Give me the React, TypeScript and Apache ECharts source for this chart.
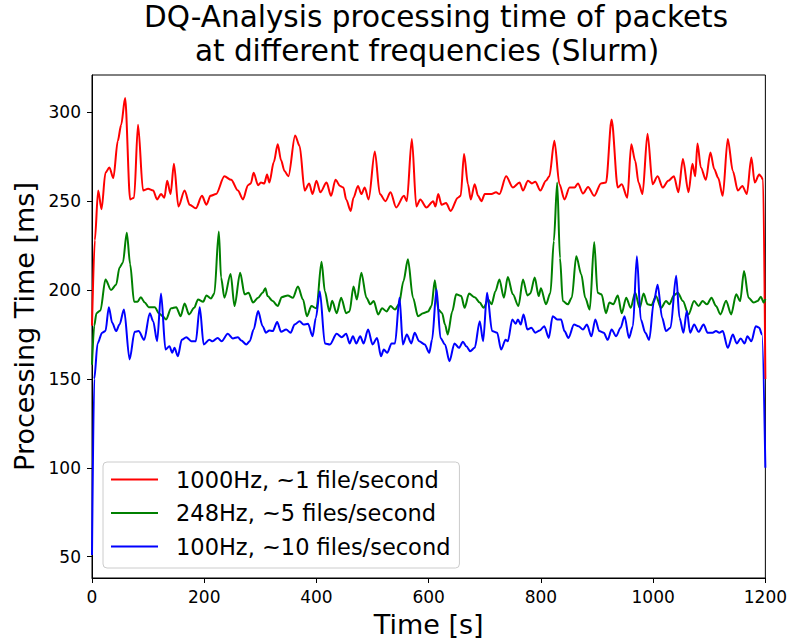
import React, { useEffect, useRef } from "react";
import * as echarts from "echarts";

const TITLE_LINE_1 = "DQ-Analysis processing time of packets";
const TITLE_LINE_2 = "at different frequencies (Slurm)";
const X_NAME = "Time [s]";
const Y_NAME = "Processing Time [ms]";
const Y_TICKS = [50, 100, 150, 200, 250, 300];
const SERIES_NAMES = ["1000Hz, ~1 file/second", "248Hz, ~5 files/second", "100Hz, ~10 files/second"];
const SERIES_COLORS = ["#ff0000", "#008000", "#0000ff"];

const red1000: number[][] = [
  [0, 180], [5, 228], [11, 256], [17, 245.5], [24, 266], [31, 269], [38, 263], [46, 284], [52, 293], [59, 308],
  [68, 251], [75, 252], [82, 293], [91, 256], [100, 257], [109, 256], [116, 251], [123, 254], [129, 252], [134, 261.5],
  [140, 254], [146, 271], [154, 247], [165, 256], [174, 248], [185, 246], [196, 253], [204, 248], [211, 253], [221, 254],
  [236, 264], [248, 262], [260, 256], [269, 251], [278, 259], [283, 260], [288, 266], [296, 259], [301, 260.5], [307, 260],
  [312, 265], [316, 260.5], [324, 272], [331, 282], [337, 273], [343, 267], [350, 264], [362, 287], [370, 281], [379, 256],
  [387, 260], [393, 254], [400, 261.5], [407, 255], [418, 260.5], [426, 253], [434, 262], [442, 258.6], [448, 257.7], [453, 251],
  [461, 244.5], [466, 252], [474, 258.6], [480, 254], [486, 257.7], [493, 251], [504, 278], [513, 254], [523, 250], [532, 255],
  [542, 246.5], [556, 253], [561, 250], [570, 285], [578, 247], [585, 251], [596, 246.5], [608, 250], [612, 247], [617, 254],
  [623, 248], [631, 249], [639, 244.5], [652, 252], [657, 253], [663, 276.5], [670, 259.6], [675, 251], [682, 259.6], [688, 253],
  [694, 250], [700, 254], [712, 254], [720, 255], [726, 254], [738, 264], [750, 257.7], [762, 260.5], [768, 256], [777, 261.5],
  [784, 260], [790, 261], [799, 256], [809, 261.5], [815, 264], [824, 284], [833, 259.6], [842, 251], [851, 257.7], [860, 257.7],
  [866, 260], [875, 254.3], [884, 258], [895, 253], [907, 260], [916, 260.5], [926, 296], [937, 257.7], [944, 259.6], [954, 252],
  [961, 282], [968, 272.7], [974, 260.5], [981, 254], [990, 288], [999, 259.6], [1008, 264], [1017, 257.7], [1027, 261.5], [1037, 264],
  [1045, 255], [1053, 273.7], [1063, 255], [1070, 271], [1075, 264], [1079, 282.5], [1085, 269], [1094, 262], [1102, 277.4], [1109, 268],
  [1116, 263], [1124, 253], [1133, 285], [1142, 267], [1151, 256], [1159, 258.6], [1167, 254], [1175, 274.6], [1181, 260.5], [1189, 265],
  [1192, 264], [1196, 262], [1200, 150],
];

const green248: number[][] = [
  [0, 158], [4, 180], [8, 187], [15, 188.5], [24, 206], [34, 200], [43, 203], [49, 212.6], [55, 215.4], [62, 232.3],
  [68, 214.5], [75, 193.4], [81, 193.4], [87, 196], [94, 193], [101, 190.4], [112, 190.4], [119, 187], [126, 185.3], [132, 183.5],
  [141, 189.7], [150, 190.4], [158, 185.3], [165, 192.5], [173, 186.3], [182, 190], [189, 194.7], [198, 193.4], [204, 197], [212, 195.3],
  [218, 198], [226, 233], [230, 207], [236, 195.7], [247, 209], [254, 191], [264, 209.8], [272, 197.6], [279, 198.5], [287, 193],
  [296, 195.7], [304, 198.5], [309, 201], [313, 196.6], [322, 193.8], [331, 191], [338, 196], [349, 197], [358, 195.7], [367, 202],
  [376, 194.7], [383, 185.3], [391, 191], [400, 189.7], [409, 216], [415, 199.4], [423, 188], [428, 194], [436, 187], [444, 195.7],
  [453, 187], [459, 188], [466, 202], [472, 194.7], [480, 209.8], [489, 195.7], [496, 192], [502, 193.8], [510, 186.3], [517, 189.7],
  [525, 188], [532, 191], [540, 189], [547, 192], [555, 205], [563, 217.3], [572, 195.7], [581, 185.3], [590, 187], [599, 188],
  [605, 191], [611, 205.5], [617, 189], [624, 187], [629, 180.6], [634, 175], [642, 188], [649, 197.6], [658, 196.6], [664, 190],
  [672, 198], [682, 196], [691, 193], [698, 190], [706, 194.7], [712, 192], [719, 199.4], [726, 206], [734, 195.7], [741, 207.3],
  [750, 197.6], [760, 191], [768, 206], [776, 197], [781, 198], [789, 207], [796, 196.6], [800, 201], [809, 192], [817, 198.5],
  [823, 227.6], [829, 260.5], [834, 218], [839, 193.8], [848, 192], [855, 195.7], [863, 219], [872, 208.8], [879, 195.7], [887, 189],
  [895, 227], [901, 198.5], [908, 197.6], [916, 187], [922, 193], [929, 192], [937, 197], [944, 187], [952, 195.7], [960, 190],
  [968, 198.5], [976, 190], [983, 198], [990, 192], [997, 191.5], [1005, 196.6], [1014, 190], [1023, 193.8], [1029, 192], [1037, 197],
  [1044, 198.5], [1053, 193.8], [1063, 186.3], [1073, 193.8], [1081, 191], [1088, 193.8], [1096, 192], [1104, 195.7], [1112, 191], [1120, 186.3],
  [1130, 194], [1139, 186.3], [1148, 197.6], [1155, 193.8], [1162, 210.7], [1170, 195.7], [1179, 193], [1186, 193.8], [1192, 196.2], [1197, 193],
  [1200, 195],
];

const blue100: number[][] = [
  [0, 51], [4, 150], [10, 170], [18, 176], [24, 177], [30, 190.4], [36, 181.6], [43, 176.9], [49, 180.6], [57, 189],
  [67, 161], [76, 176.5], [83, 176.9], [93, 172], [103, 187], [109, 182.5], [116, 171.2], [123, 198], [131, 166.5], [138, 168.4],
  [143, 164.7], [147, 167.5], [153, 162.8], [160, 172], [168, 173.5], [177, 171.2], [185, 171.2], [192, 190.4], [199, 169.4], [209, 172],
  [215, 171.2], [224, 173.1], [231, 171.2], [242, 175.4], [251, 172.8], [260, 173.5], [266, 171.6], [275, 169.4], [281, 171.2], [288, 177.8],
  [296, 188.2], [304, 179.7], [310, 176], [316, 177.3], [322, 176.9], [330, 182], [337, 176.5], [346, 177.8], [354, 176], [361, 180.6],
  [370, 182.5], [377, 180.6], [385, 181], [393, 174], [399, 184.4], [406, 199.4], [415, 170], [424, 169.4], [436, 175.4], [445, 173.5],
  [453, 175.4], [459, 170], [465, 174], [471, 170], [478, 174], [484, 170], [492, 177.8], [500, 169.4], [508, 173.1], [515, 162.8],
  [520, 166.5], [526, 164.7], [534, 170], [540, 170], [548, 195.7], [554, 169.4], [561, 175], [569, 170], [575, 176], [583, 171.2],
  [593, 169.4], [601, 164.7], [606, 172], [614, 200.4], [621, 173.1], [629, 169.4], [637, 160], [646, 170], [654, 167.5], [661, 170.9],
  [667, 168.4], [674, 165.6], [682, 167.5], [691, 182.5], [697, 171.2], [704, 198.5], [713, 176.9], [722, 176], [729, 166.5], [737, 172],
  [741, 171.2], [749, 183.5], [755, 181], [759, 183.5], [764, 180.6], [769, 186.3], [776, 177.8], [783, 178.8], [790, 176], [798, 177.3],
  [806, 179.7], [814, 173.1], [821, 185.3], [829, 183.5], [836, 183.5], [842, 176.9], [849, 173.1], [859, 180.6], [867, 179.7], [875, 177.8],
  [882, 180.6], [890, 174], [897, 183.5], [904, 176.9], [912, 176], [919, 172], [926, 177.8], [934, 174], [942, 178.8], [949, 185.3],
  [957, 173.1], [964, 179.7], [971, 219], [978, 183.5], [986, 176], [993, 172], [1001, 192.9], [1008, 203], [1016, 184.4], [1023, 176.9],
  [1031, 178.8], [1041, 208], [1047, 184.4], [1054, 176], [1060, 188.2], [1066, 176], [1073, 180.6], [1081, 176.5], [1090, 180.6], [1097, 176],
  [1106, 176], [1112, 176.9], [1118, 176], [1124, 176.9], [1133, 167.5], [1142, 175], [1149, 170], [1156, 172.8], [1163, 170], [1168, 174],
  [1175, 171.2], [1183, 179.7], [1189, 178.8], [1194, 175], [1200, 100],
];

const SERIES_DATA = [red1000, green248, blue100];

const FONT = "DejaVu Sans";

export default function App() {
  const ref = useRef<HTMLDivElement>(null);
  useEffect(() => {
    if (!ref.current) return;
    const chart = echarts.init(ref.current, null, { renderer: "svg" });
    const titleStyle = { fontFamily: FONT, fontSize: 29.5, fontWeight: "normal", color: "#000", lineHeight: 34 };
    const option: any = {
      animation: false,
      backgroundColor: "#ffffff",
      title: [
        { text: TITLE_LINE_1, left: 436, top: 0, textAlign: "center", textStyle: titleStyle, padding: 0 },
        { text: TITLE_LINE_2, left: 427, top: 34, textAlign: "center", textStyle: titleStyle, padding: 0 },
      ],
      grid: {
        left: 92, right: 24, top: 75, bottom: 66,
        show: true, borderColor: "#000", borderWidth: 1, backgroundColor: "transparent",
        containLabel: false,
      },
      legend: {
        orient: "vertical",
        left: 103,
        top: 462,
        data: SERIES_NAMES,
        icon: "rect",
        itemWidth: 47,
        itemHeight: 2,
        itemGap: 10.5,
        padding: [6, 9, 10, 8],
        backgroundColor: "rgba(255,255,255,0.8)",
        borderColor: "#cccccc",
        borderWidth: 1,
        borderRadius: 4,
        textStyle: { fontFamily: FONT, fontSize: 22.5, color: "#000", lineHeight: 22, padding: [0, 0, 0, 13] },
      },
      xAxis: {
        type: "value",
        min: 0,
        max: 1200,
        interval: 200,
        name: X_NAME,
        nameLocation: "middle",
        nameGap: 33,
        nameTextStyle: { fontFamily: FONT, fontSize: 27, color: "#000" },
        axisLine: { show: true, onZero: false, lineStyle: { color: "#000", width: 1 } },
        axisTick: { show: true, inside: false, length: 5, lineStyle: { color: "#000", width: 1 } },
        axisLabel: { fontFamily: FONT, fontSize: 17, color: "#000", margin: 10, formatter: (v: number) => String(v) },
        splitLine: { show: false },
      },
      yAxis: {
        type: "value",
        min: 38,
        max: 321,
        name: Y_NAME,
        nameLocation: "middle",
        nameGap: 50,
        nameTextStyle: { fontFamily: FONT, fontSize: 27, color: "#000" },
        axisLine: { show: true, onZero: false, lineStyle: { color: "#000", width: 1 } },
        axisTick: { show: true, inside: false, length: 5, lineStyle: { color: "#000", width: 1 }, customValues: Y_TICKS },
        axisLabel: { fontFamily: FONT, fontSize: 17, color: "#000", margin: 11, customValues: Y_TICKS },
        splitLine: { show: false },
      },
      series: SERIES_NAMES.map((name, i) => ({
        name,
        type: "line",
        data: SERIES_DATA[i],
        showSymbol: false,
        symbol: "none",
        smooth: 0.3,
        smoothMonotone: "x",
        lineStyle: { color: SERIES_COLORS[i], width: 2 },
        itemStyle: { color: SERIES_COLORS[i] },
        z: 2 + i,
      })),
    };
    chart.setOption(option);
    return () => chart.dispose();
  }, []);
  return (
    <div
      ref={ref}
      style={{ position: "fixed", left: 0, top: 0, width: 790, height: 644, background: "#fff" }}
    />
  );
}
